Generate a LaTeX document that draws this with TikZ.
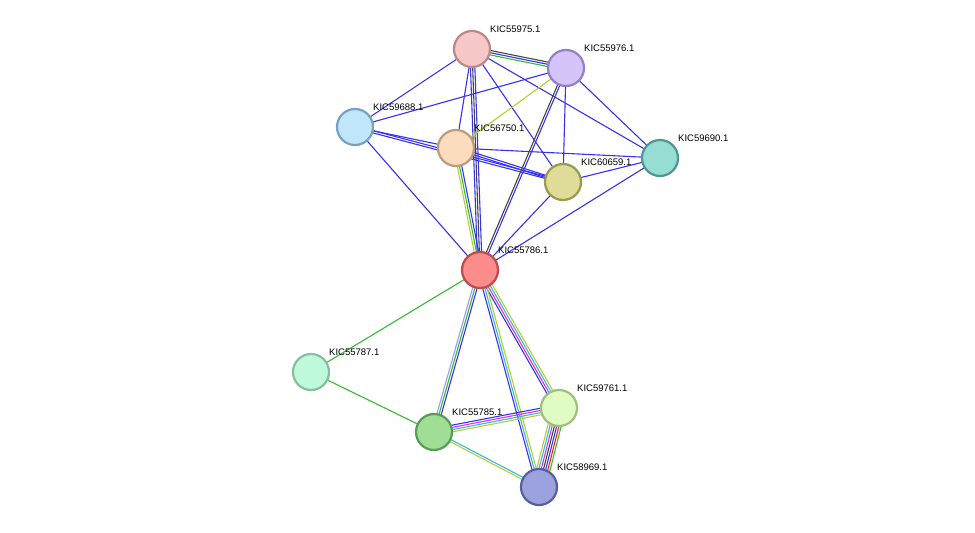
\documentclass[tikz,border=0pt]{standalone}
\usepackage{fontspec}
\setmainfont{Liberation Sans}
\usetikzlibrary{calc}
\definecolor{eblue}{HTML}{3333EE}
\definecolor{egreen}{HTML}{33BB33}
\definecolor{eyel}{HTML}{BBCC33}
\definecolor{ecyan}{HTML}{33BBDD}
\definecolor{emag}{HTML}{DD33DD}
\definecolor{eblack}{HTML}{444444}
\definecolor{ered}{HTML}{EE2222}
\definecolor{elb}{HTML}{9999FF}
\newcommand{\medge}[4]{% a, b, n, colors
  \foreach \cc [count=\ii] in {#4}{
    \pgfmathsetmacro{\oo}{(\ii-(#3+1)/2)*2.2}
    \draw[\cc, line width=1.1pt] ($(#1)!\oo pt!90:(#2)$) -- ($(#2)!\oo pt!-90:(#1)$);
  }}
\tikzset{prot/.style={circle, minimum size=36pt, inner sep=0pt, line width=2.2pt},
  lab/.style={anchor=south west, font=\fontsize{9.5}{10}\selectfont, inner sep=0pt}}
\begin{document}
\begin{tikzpicture}[x=1pt,y=-1pt]
\useasboundingbox (0,0) rectangle (975,533);
\coordinate (A) at (472,49);
\coordinate (B) at (566,68);
\coordinate (C) at (355,127);
\coordinate (D) at (456,148);
\coordinate (E) at (660,158);
\coordinate (F) at (563,182);
\coordinate (G) at (480,270);
\coordinate (H) at (311,372);
\coordinate (I) at (434,432);
\coordinate (J) at (559,408);
\coordinate (K) at (539,487);
\medge{A}{B}{3}{egreen,eblue,eblack}
\medge{A}{C}{1}{eblue}
\medge{A}{D}{1}{eblue}
\medge{A}{G}{3}{eblue,eblack,eblue}
\medge{A}{F}{1}{eblue}
\medge{A}{E}{1}{eblue}
\medge{B}{C}{1}{eblue}
\medge{B}{D}{1}{eyel}
\medge{B}{G}{2}{eblack,eblue}
\medge{B}{F}{1}{eblue}
\medge{B}{E}{1}{eblue}
\medge{C}{D}{1}{eblue}
\medge{C}{F}{2}{eblue,eblue}
\medge{C}{G}{1}{eblue}
\medge{D}{E}{1}{eblue}
\medge{D}{F}{2}{eblue,eblue}
\medge{D}{G}{3}{eyel,egreen,eblue}
\medge{F}{G}{1}{eblue}
\medge{E}{G}{1}{eblue}
\medge{E}{F}{1}{eblue}
\medge{G}{H}{1}{egreen}
\medge{G}{I}{3}{elb,egreen,eblue}
\medge{G}{J}{4}{eblue,emag,ecyan,eyel}
\medge{G}{K}{3}{eblue,ecyan,eyel}
\medge{H}{I}{1}{egreen}
\medge{I}{J}{4}{eyel,ecyan,emag,eblue}
\medge{I}{K}{2}{eyel,ecyan}
\medge{J}{K}{7}{eyel,ecyan,emag,eblack,eblue,ered,egreen}
\node[prot, fill={rgb,255:red,248;green,200;blue,200}, draw={rgb,255:red,190;green,135;blue,135}] (nA) at (A) {};
\node[prot, fill={rgb,255:red,212;green,196;blue,250}, draw={rgb,255:red,150;green,125;blue,200}] (nB) at (B) {};
\node[prot, fill={rgb,255:red,192;green,230;blue,252}, draw={rgb,255:red,120;green,160;blue,195}] (nC) at (C) {};
\node[prot, fill={rgb,255:red,252;green,220;blue,190}, draw={rgb,255:red,190;green,155;blue,125}] (nD) at (D) {};
\node[prot, fill={rgb,255:red,150;green,222;blue,212}, draw={rgb,255:red,80;green,150;blue,145}] (nE) at (E) {};
\node[prot, fill={rgb,255:red,222;green,220;blue,150}, draw={rgb,255:red,155;green,152;blue,80}] (nF) at (F) {};
\node[prot, fill={rgb,255:red,252;green,140;blue,140}, draw={rgb,255:red,190;green,75;blue,75}] (nG) at (G) {};
\node[prot, fill={rgb,255:red,192;green,250;blue,220}, draw={rgb,255:red,135;green,190;blue,155}] (nH) at (H) {};
\node[prot, fill={rgb,255:red,160;green,222;blue,150}, draw={rgb,255:red,90;green,155;blue,85}] (nI) at (I) {};
\node[prot, fill={rgb,255:red,225;green,252;blue,195}, draw={rgb,255:red,160;green,190;blue,125}] (nJ) at (J) {};
\node[prot, fill={rgb,255:red,155;green,162;blue,222}, draw={rgb,255:red,85;green,95;blue,160}] (nK) at (K) {};
\node[lab] (lA) at (490,33) {KIC55975.1};
\node[lab] (lB) at (584,52) {KIC55976.1};
\node[lab] (lC) at (373,111) {KIC59688.1};
\node[lab] (lD) at (474,132) {KIC56750.1};
\node[lab] (lE) at (678,142) {KIC59690.1};
\node[lab] (lF) at (581,166) {KIC60659.1};
\node[lab] (lG) at (498,254) {KIC55786.1};
\node[lab] (lH) at (329,356) {KIC55787.1};
\node[lab] (lI) at (452,416) {KIC55785.1};
\node[lab] (lJ) at (577,392) {KIC59761.1};
\node[lab] (lK) at (557,471) {KIC58969.1};
\end{tikzpicture}
\end{document}
